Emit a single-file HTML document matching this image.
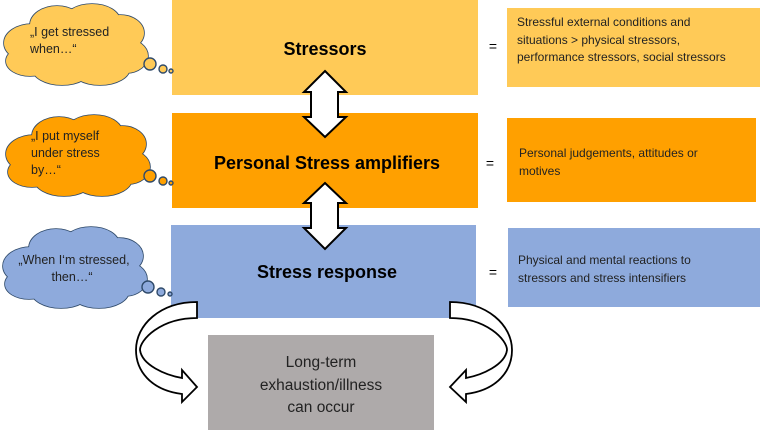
<!DOCTYPE html>
<html><head><meta charset="utf-8"><style>
body{margin:0;width:760px;height:430px;overflow:hidden;background:#fff;font-family:"Liberation Sans",sans-serif;}
</style></head><body>
<svg width="760" height="430" viewBox="0 0 760 430" xmlns="http://www.w3.org/2000/svg" style="position:absolute;left:0;top:0">
<defs>
<g id="cs" fill="none" stroke="#2f4a6a" stroke-width="1.6">
<ellipse cx="30" cy="40" rx="28" ry="19"/><ellipse cx="55" cy="22" rx="27" ry="19"/><ellipse cx="90" cy="18" rx="28" ry="17"/><ellipse cx="118" cy="30" rx="24" ry="18"/><ellipse cx="124" cy="53" rx="22" ry="17"/><ellipse cx="98" cy="65" rx="30" ry="17"/><ellipse cx="60" cy="65" rx="30" ry="17"/><ellipse cx="28" cy="58" rx="24" ry="15"/>
</g>
<g id="cf" stroke="none">
<ellipse cx="30" cy="40" rx="28" ry="19"/><ellipse cx="55" cy="22" rx="27" ry="19"/><ellipse cx="90" cy="18" rx="28" ry="17"/><ellipse cx="118" cy="30" rx="24" ry="18"/><ellipse cx="124" cy="53" rx="22" ry="17"/><ellipse cx="98" cy="65" rx="30" ry="17"/><ellipse cx="60" cy="65" rx="30" ry="17"/><ellipse cx="28" cy="58" rx="24" ry="15"/><ellipse cx="73" cy="42" rx="55" ry="28"/>
</g>
</defs>
<rect x="172" y="0" width="306" height="95" fill="#ffca57"/>
<rect x="172" y="113" width="306" height="95" fill="#ffa000"/>
<rect x="171" y="225" width="305" height="93" fill="#8eaadc"/>
<rect x="208" y="335" width="226" height="95" fill="#aeaaaa"/>
<rect x="507" y="8" width="253" height="79" fill="#ffca57"/>
<rect x="507" y="118" width="249" height="84" fill="#ffa000"/>
<rect x="508" y="228" width="252" height="79" fill="#8eaadc"/>
<g transform="translate(2,3)"><use href="#cs"/><use href="#cf" fill="#ffca57"/></g>
<g transform="translate(4,114)"><use href="#cs"/><use href="#cf" fill="#ffa000"/></g>
<g transform="translate(1,226)"><use href="#cs"/><use href="#cf" fill="#8eaadc"/></g>
<g stroke="#2f4a6a" stroke-width="1.4">
<circle cx="150" cy="64" r="6" fill="#ffca57"/><circle cx="163" cy="69" r="4" fill="#ffca57"/><circle cx="171" cy="71" r="2" fill="#ffca57"/>
<circle cx="150" cy="176" r="6" fill="#ffa000"/><circle cx="163" cy="181" r="4" fill="#ffa000"/><circle cx="171" cy="183" r="2" fill="#ffa000"/>
<circle cx="148" cy="287" r="6" fill="#8eaadc"/><circle cx="161" cy="292" r="4" fill="#8eaadc"/><circle cx="170" cy="294" r="2" fill="#8eaadc"/>
</g>
<g stroke="#000" stroke-width="2" fill="#fff">
<path d="M325 71 L346 92 L338 92 L338 117 L346 117 L325 137 L304 117 L311 117 L311 92 L304 92 Z"/>
<path d="M325 183 L346 203 L338 203 L338 228 L346 228 L325 249 L304 228 L311 228 L311 203 L304 203 Z"/>
</g>
<path d="M197 302 L197 318 C160 318 140 340 140 350 C142 365 165 375 182 378 L182 370 L197 387 L182 402 L182 394 C150 390 136 370 136 350 C136 325 160 302 197 302 Z" fill="#fff" stroke="#000" stroke-width="1.8"/>
<path d="M450 302 L450 318 C487 318 507 340 507 350 C505 365 482 375 466 378 L466 370 L450 387 L466 402 L466 394 C498 390 512 370 512 350 C512 325 487 302 450 302 Z" fill="#fff" stroke="#000" stroke-width="1.8"/>
<g font-family="Liberation Sans, sans-serif" fill="#000">
<text x="325" y="55" font-size="18" font-weight="bold" text-anchor="middle">Stressors</text>
<text x="327" y="169" font-size="18" font-weight="bold" text-anchor="middle">Personal Stress amplifiers</text>
<text x="327" y="278" font-size="18" font-weight="bold" text-anchor="middle">Stress response</text>
<text font-size="15.5" text-anchor="middle" fill="#222"><tspan x="321" y="367">Long-term</tspan><tspan x="321" y="390">exhaustion/illness</tspan><tspan x="321" y="412">can occur</tspan></text>
<text x="493" y="51" font-size="14" text-anchor="middle">=</text>
<text x="490" y="168" font-size="14" text-anchor="middle">=</text>
<text x="493" y="277" font-size="14" text-anchor="middle">=</text>
<text font-size="12" fill="#222"><tspan x="517" y="26">Stressful external conditions and</tspan><tspan x="517" y="44">situations &gt; physical stressors,</tspan><tspan x="517" y="61">performance stressors, social stressors</tspan></text>
<text font-size="12" fill="#222"><tspan x="519" y="157">Personal judgements, attitudes or</tspan><tspan x="519" y="175">motives</tspan></text>
<text font-size="12" fill="#222"><tspan x="518" y="264">Physical and mental reactions to</tspan><tspan x="518" y="282">stressors and stress intensifiers</tspan></text>
<text font-size="12.5" fill="#222"><tspan x="30" y="36">„I get stressed</tspan><tspan x="30" y="53">when…“</tspan></text>
<text font-size="12.5" fill="#222"><tspan x="31" y="140">„I put myself</tspan><tspan x="31" y="157">under stress</tspan><tspan x="31" y="174">by…“</tspan></text>
<text font-size="12.5" fill="#222" text-anchor="middle"><tspan x="74" y="264">„When I‘m stressed,</tspan><tspan x="72" y="281">then…“</tspan></text>
</g>
</svg>
</body></html>
